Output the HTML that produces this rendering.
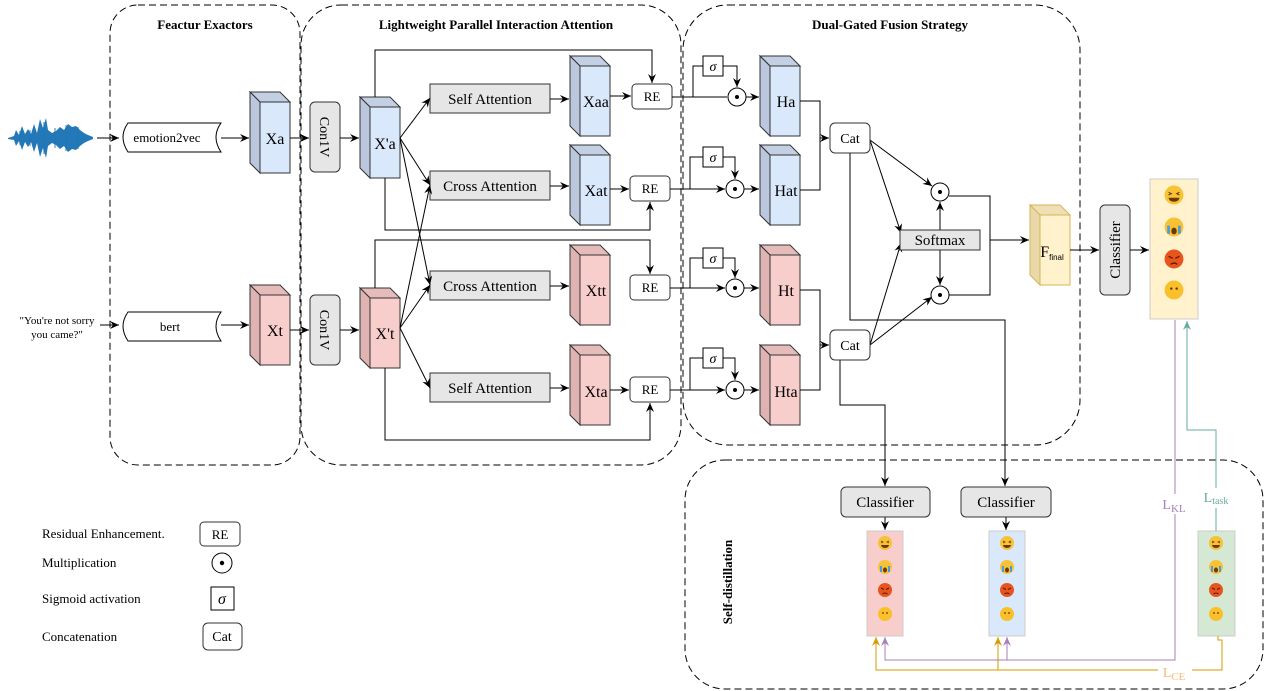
<!DOCTYPE html>
<html><head><meta charset="utf-8"><style>
html,body{margin:0;padding:0;background:#fff}
svg{display:block;font-family:"Liberation Serif",serif}
</style></head><body>
<svg width="1265" height="691" viewBox="0 0 1265 691" xmlns="http://www.w3.org/2000/svg">
<defs>
<marker id="a" markerWidth="10" markerHeight="10" refX="9" refY="5" orient="auto" markerUnits="userSpaceOnUse"><path d="M0,1 L9,5 L0,9 L3,5 z" fill="#000"/></marker>
<marker id="ap" markerWidth="10" markerHeight="10" refX="9" refY="5" orient="auto" markerUnits="userSpaceOnUse"><path d="M0,1 L9,5 L0,9 L3,5 z" fill="#a680b8"/></marker>
<marker id="ao" markerWidth="10" markerHeight="10" refX="9" refY="5" orient="auto" markerUnits="userSpaceOnUse"><path d="M0,1 L9,5 L0,9 L3,5 z" fill="#d79b00"/></marker>
<marker id="at" markerWidth="10" markerHeight="10" refX="9" refY="5" orient="auto" markerUnits="userSpaceOnUse"><path d="M0,1 L9,5 L0,9 L3,5 z" fill="#67ab9f"/></marker>
<g id="emo">
<circle cx="0" cy="0" r="7" fill="#f7c235"/><path d="M-4,-2 l2,1 l-2,1 M4,-2 l-2,1 l2,1" stroke="#6b3a00" fill="none" stroke-width="0.8"/><path d="M-4,2 h8 a4,3 0 0 1 -8,0z" fill="#6b3a00"/>
</g>
<g id="emo2"><circle r="7" fill="#f7c235"/><rect x="-5" y="-1" width="2" height="6" fill="#4a9be0"/><rect x="3" y="-1" width="2" height="6" fill="#4a9be0"/><ellipse cx="0" cy="3" rx="2" ry="2.5" fill="#6b3a00"/></g>
<g id="emo3"><circle r="7" fill="#e8541e"/><path d="M-4,-2 l3,1.5 M4,-2 l-3,1.5 M-2.5,4 q2.5,-2 5,0" stroke="#5a1a00" fill="none" stroke-width="1"/></g>
<g id="emo4"><circle r="7" fill="#f9c02c"/><circle cx="-2" cy="-1" r="0.9" fill="#6b3a00"/><circle cx="2" cy="-1" r="0.9" fill="#6b3a00"/></g>
</defs>

<g fill="none" stroke="#000" stroke-dasharray="7,4" stroke-width="1">
<rect x="110" y="5" width="190" height="460" rx="28"/>
<rect x="301" y="5" width="380" height="460" rx="40"/>
<rect x="683" y="5" width="397" height="440" rx="45"/>
<rect x="685" y="460" width="578" height="229" rx="40"/>
</g>
<g font-weight="bold" font-size="13" text-anchor="middle">
<text x="205" y="29">Feactur Exactors</text>
<text x="496" y="29">Lightweight Parallel Interaction Attention</text>
<text x="890" y="29">Dual-Gated Fusion Strategy</text>
<text transform="translate(732,582) rotate(-90)">Self-distillation</text>
</g>

<!-- waveform -->
<path d="M8,138 L14,136 L16,130 L19,135 L22,126 L25,134 L28,129 L31,134 L34,124 L37,133 L40,119 L43,128 L46,118 L48,130 L52,133 L56,131 L60,127 L64,130 L68,124 L72,127 L76,126 L80,130 L84,133 L88,135 L93,137 L93,139 L88,141 L84,143 L80,146 L76,150 L72,149 L68,152 L64,146 L60,149 L56,145 L52,143 L48,146 L46,158 L43,148 L40,157 L37,143 L34,152 L31,142 L28,147 L25,142 L22,150 L19,141 L16,146 L14,140 L8,139z" fill="#2378b8"/>
<g stroke="#1f77b4" stroke-width="1.5" opacity="0.6">
<path d="M20,131v14 M30,130v16 M44,122v32 M55,128v20 M66,125v26 M78,127v22"/>
</g>
<line x1="97" y1="138" x2="119" y2="138" stroke="#000" marker-end="url(#a)"/>
<line x1="100" y1="325" x2="119" y2="325" stroke="#000" marker-end="url(#a)"/>
<text x="57" y="324" font-size="11" text-anchor="middle">"You're not sorry</text>
<text x="57" y="338" font-size="11" text-anchor="middle">you came?"</text>

<g fill="#fff" stroke="#000">
<path d="M128,123 H221 Q211,137 221,152 H128 Q118,137 128,123z"/>
<path d="M128,312 H221 Q211,326 221,341 H128 Q118,326 128,312z"/>
</g>
<text x="167" y="142" font-size="13" text-anchor="middle">emotion2vec</text>
<text x="170" y="331" font-size="13" text-anchor="middle">bert</text>
<line x1="221" y1="138" x2="249" y2="138" stroke="#000" marker-end="url(#a)"/>
<line x1="221" y1="325" x2="249" y2="325" stroke="#000" marker-end="url(#a)"/>

<g stroke="#333" stroke-width="1">
<g fill="#dae8fc">
<path d="M250,92 L280,92 L290,102 L260,102z" fill="#c3cfe2"/><path d="M250,92 L260,102 L260,173 L250,163z" fill="#bac7dc"/><rect x="260" y="102" width="30" height="71"/>
<path d="M360,97 L390,97 L400,107 L370,107z" fill="#c3cfe2"/><path d="M360,97 L370,107 L370,178 L360,168z" fill="#bac7dc"/><rect x="370" y="107" width="30" height="71"/>
<path d="M570,56 L600,56 L610,66 L580,66z" fill="#c3cfe2"/><path d="M570,56 L580,66 L580,136 L570,126z" fill="#bac7dc"/><rect x="580" y="66" width="30" height="70"/>
<path d="M570,145 L600,145 L610,155 L580,155z" fill="#c3cfe2"/><path d="M570,145 L580,155 L580,225 L570,215z" fill="#bac7dc"/><rect x="580" y="155" width="30" height="70"/>
<path d="M760,56 L790,56 L800,66 L770,66z" fill="#c3cfe2"/><path d="M760,56 L770,66 L770,136 L760,126z" fill="#bac7dc"/><rect x="770" y="66" width="30" height="70"/>
<path d="M760,145 L790,145 L800,155 L770,155z" fill="#c3cfe2"/><path d="M760,145 L770,155 L770,225 L760,215z" fill="#bac7dc"/><rect x="770" y="155" width="30" height="70"/>
</g>
<g fill="#f8cecc">
<path d="M250,285 L280,285 L290,295 L260,295z" fill="#e6bcbb"/><path d="M250,285 L260,295 L260,365 L250,355z" fill="#deb3b2"/><rect x="260" y="295" width="30" height="70"/>
<path d="M360,288 L390,288 L400,298 L370,298z" fill="#e6bcbb"/><path d="M360,288 L370,298 L370,368 L360,358z" fill="#deb3b2"/><rect x="370" y="298" width="30" height="70"/>
<path d="M570,245 L600,245 L610,255 L580,255z" fill="#e6bcbb"/><path d="M570,245 L580,255 L580,325 L570,315z" fill="#deb3b2"/><rect x="580" y="255" width="30" height="70"/>
<path d="M570,345 L600,345 L610,355 L580,355z" fill="#e6bcbb"/><path d="M570,345 L580,355 L580,425 L570,415z" fill="#deb3b2"/><rect x="580" y="355" width="30" height="70"/>
<path d="M760,245 L790,245 L800,255 L770,255z" fill="#e6bcbb"/><path d="M760,245 L770,255 L770,325 L760,315z" fill="#deb3b2"/><rect x="770" y="255" width="30" height="70"/>
<path d="M760,345 L790,345 L800,355 L770,355z" fill="#e6bcbb"/><path d="M760,345 L770,355 L770,425 L760,415z" fill="#deb3b2"/><rect x="770" y="355" width="30" height="70"/>
</g>
<g stroke="#d6b656">
<path d="M1030,205 L1060,205 L1070,215 L1040,215z" fill="#eedfb5"/><path d="M1030,205 L1040,215 L1040,285 L1030,275z" fill="#e8d8aa"/><rect x="1040" y="215" width="30" height="70" fill="#fff2cc"/>
</g>
</g>
<g font-size="16" text-anchor="middle">
<text x="275" y="144">Xa</text><text x="275" y="336">Xt</text>
<text x="385" y="149">X'a</text><text x="385" y="339">X't</text>
<text x="596" y="107">Xaa</text><text x="596" y="196">Xat</text><text x="596" y="296">Xtt</text><text x="596" y="397">Xta</text>
<text x="786" y="107">Ha</text><text x="786" y="196">Hat</text><text x="786" y="296">Ht</text><text x="786" y="397">Hta</text>
<text x="1052" y="257" text-anchor="middle">F<tspan font-family="Liberation Sans" font-size="8" dy="3">final</tspan></text>
</g>

<g fill="#e6e6e6" stroke="#333">
<rect x="310" y="102" width="30" height="70" rx="5"/>
<rect x="310" y="295" width="30" height="70" rx="5"/>
<rect x="1100" y="205" width="30" height="90" rx="5"/>
</g>
<g font-size="14" text-anchor="middle">
<text transform="translate(320,137) rotate(90)">Con1V</text>
<text transform="translate(320,330) rotate(90)">Con1V</text>
<text transform="translate(1120,250) rotate(-90)" font-size="15">Classifier</text>
</g>
<g stroke="#000" fill="none">
<line x1="290" y1="138" x2="309" y2="138" marker-end="url(#a)"/>
<line x1="290" y1="330" x2="309" y2="330" marker-end="url(#a)"/>
<line x1="340" y1="138" x2="359" y2="138" marker-end="url(#a)"/>
<line x1="340" y1="330" x2="359" y2="330" marker-end="url(#a)"/>
</g>

<g fill="#e6e6e6" stroke="#333">
<rect x="430" y="84" width="120" height="29"/>
<rect x="430" y="171" width="120" height="29"/>
<rect x="430" y="271" width="120" height="29"/>
<rect x="430" y="373" width="120" height="29"/>
</g>
<g font-size="15" text-anchor="middle">
<text x="490" y="104">Self Attention</text>
<text x="490" y="191">Cross Attention</text>
<text x="490" y="291">Cross Attention</text>
<text x="490" y="393">Self Attention</text>
</g>
<g stroke="#000" fill="none">
<line x1="400" y1="138" x2="430" y2="98" marker-end="url(#a)"/>
<line x1="400" y1="138" x2="430" y2="185" marker-end="url(#a)"/>
<line x1="400" y1="138" x2="430" y2="285" marker-end="url(#a)"/>
<line x1="400" y1="328" x2="430" y2="185" marker-end="url(#a)"/>
<line x1="400" y1="328" x2="430" y2="285" marker-end="url(#a)"/>
<line x1="400" y1="328" x2="430" y2="388" marker-end="url(#a)"/>
<line x1="550" y1="99" x2="569" y2="99" marker-end="url(#a)"/>
<line x1="550" y1="186" x2="569" y2="186" marker-end="url(#a)"/>
<line x1="550" y1="286" x2="569" y2="286" marker-end="url(#a)"/>
<line x1="550" y1="388" x2="569" y2="388" marker-end="url(#a)"/>
<line x1="610" y1="96" x2="631" y2="96" marker-end="url(#a)"/>
<line x1="610" y1="189" x2="629" y2="189" marker-end="url(#a)"/>
<line x1="610" y1="390" x2="629" y2="390" marker-end="url(#a)"/>
<polyline points="375,97 375,50 652,50 652,83" marker-end="url(#a)"/>
<polyline points="385,178 385,230 650,230 650,202" marker-end="url(#a)"/>
<polyline points="375,288 375,240 650,240 650,274" marker-end="url(#a)"/>
<polyline points="385,368 385,440 650,440 650,403" marker-end="url(#a)"/>
</g>

<g fill="#fff" stroke="#333">
<rect x="632" y="84" width="40" height="25" rx="4"/>
<rect x="630" y="176" width="40" height="25" rx="4"/>
<rect x="630" y="275" width="40" height="25" rx="4"/>
<rect x="630" y="377" width="40" height="25" rx="4"/>
<rect x="200" y="522" width="40" height="24" rx="4"/>
</g>
<g font-size="13" text-anchor="middle">
<text x="652" y="101">RE</text><text x="650" y="193">RE</text><text x="650" y="292">RE</text><text x="650" y="394">RE</text><text x="220" y="539">RE</text>
</g>

<g stroke="#000" fill="none">
<line x1="672" y1="97" x2="727" y2="97" />
<polyline points="693,97 693,66 703,66"/><polyline points="723,66 737,66 737,87" marker-end="url(#a)"/>
<line x1="746" y1="97" x2="759" y2="97" marker-end="url(#a)"/>
<line x1="670" y1="189" x2="725" y2="189" marker-end="url(#a)"/>
<polyline points="690,189 690,157 703,157"/><polyline points="723,157 735,157 735,179" marker-end="url(#a)"/>
<line x1="744" y1="189" x2="759" y2="189" marker-end="url(#a)"/>
<line x1="670" y1="288" x2="725" y2="288" marker-end="url(#a)"/>
<polyline points="690,288 690,258 703,258"/><polyline points="723,258 735,258 735,278" marker-end="url(#a)"/>
<line x1="744" y1="288" x2="759" y2="288" marker-end="url(#a)"/>
<line x1="670" y1="390" x2="725" y2="390" marker-end="url(#a)"/>
<polyline points="690,390 690,358 703,358"/><polyline points="723,358 735,358 735,380" marker-end="url(#a)"/>
<line x1="744" y1="390" x2="759" y2="390" marker-end="url(#a)"/>
<polyline points="800,101 820,101 820,190 800,190"/>
<line x1="820" y1="138" x2="829" y2="138" marker-end="url(#a)"/>
<polyline points="800,290 820,290 820,390 800,390"/>
<line x1="820" y1="345" x2="829" y2="345" marker-end="url(#a)"/>
<line x1="870" y1="140" x2="932" y2="186" marker-end="url(#a)"/>
<line x1="870" y1="140" x2="901" y2="233" marker-end="url(#a)"/>
<line x1="870" y1="345" x2="901" y2="243" marker-end="url(#a)"/>
<line x1="870" y1="345" x2="932" y2="297" marker-end="url(#a)"/>
<line x1="940" y1="230" x2="940" y2="202" marker-end="url(#a)"/>
<line x1="940" y1="250" x2="940" y2="285" marker-end="url(#a)"/>
<polyline points="949,196 990,196 990,295 949,295"/>
<line x1="990" y1="240" x2="1029" y2="240" marker-end="url(#a)"/>
<line x1="1070" y1="250" x2="1099" y2="250" marker-end="url(#a)"/>
<line x1="1130" y1="250" x2="1149" y2="250" marker-end="url(#a)"/>
<polyline points="850,153 850,320 1005,320 1005,486" marker-end="url(#a)"/>
<polyline points="840,360 840,405 885,405 885,486" marker-end="url(#a)"/>
<line x1="885" y1="517" x2="885" y2="530" marker-end="url(#a)"/>
<line x1="1006" y1="517" x2="1006" y2="530" marker-end="url(#a)"/>
</g>
<g fill="#fff" stroke="#000">
<rect x="703" y="56" width="20" height="20"/>
<rect x="703" y="147" width="20" height="20"/>
<rect x="703" y="248" width="20" height="20"/>
<rect x="703" y="348" width="20" height="20"/>
<rect x="211" y="587" width="23" height="23"/>
</g>
<g font-size="14" font-style="italic" text-anchor="middle">
<text x="713" y="71">σ</text><text x="713" y="162">σ</text><text x="713" y="263">σ</text><text x="713" y="363">σ</text><text x="222" y="604" font-size="16">σ</text>
</g>
<g fill="#fff" stroke="#000">
<circle cx="737" cy="97" r="9"/><circle cx="735" cy="189" r="9"/><circle cx="735" cy="288" r="9"/><circle cx="735" cy="390" r="9"/>
<circle cx="940" cy="192" r="9"/><circle cx="940" cy="295" r="9"/><circle cx="222" cy="563" r="10"/>
</g>
<g fill="#000">
<circle cx="737" cy="97" r="2"/><circle cx="735" cy="189" r="2"/><circle cx="735" cy="288" r="2"/><circle cx="735" cy="390" r="2"/>
<circle cx="940" cy="192" r="2"/><circle cx="940" cy="295" r="2"/><circle cx="222" cy="563" r="2.2"/>
</g>
<g fill="#fff" stroke="#333">
<rect x="830" y="123" width="40" height="30" rx="5"/>
<rect x="830" y="330" width="40" height="30" rx="5"/>
<rect x="203" y="623" width="39" height="27" rx="5"/>
</g>
<g font-size="14" text-anchor="middle">
<text x="850" y="143">Cat</text><text x="850" y="350">Cat</text><text x="222" y="641">Cat</text>
</g>
<rect x="900" y="230" width="80" height="20" fill="#e6e6e6" stroke="#333"/>
<text x="940" y="245" font-size="15" text-anchor="middle">Softmax</text>

<g fill="#e6e6e6" stroke="#333">
<rect x="841" y="487" width="89" height="30" rx="5"/>
<rect x="961" y="487" width="90" height="30" rx="5"/>
</g>
<g font-size="15" text-anchor="middle">
<text x="885" y="507">Classifier</text><text x="1006" y="507">Classifier</text>
</g>

<g stroke="#ccc">
<rect x="1150" y="179" width="48" height="140" fill="#fff2cc"/>
<rect x="867" y="531" width="36" height="105" fill="#f8cecc"/>
<rect x="989" y="531" width="36" height="105" fill="#dae8fc"/>
<rect x="1198" y="531" width="37" height="105" fill="#d5e8d4"/>
</g>
<g>
<use href="#emo" transform="translate(1174,195) scale(1.35)"/>
<use href="#emo2" transform="translate(1174,227) scale(1.35)"/>
<use href="#emo3" transform="translate(1174,259) scale(1.35)"/>
<use href="#emo4" transform="translate(1174,290) scale(1.35)"/>
<use href="#emo" transform="translate(885,543)"/><use href="#emo2" transform="translate(885,567)"/><use href="#emo3" transform="translate(885,590)"/><use href="#emo4" transform="translate(885,614)"/>
<use href="#emo" transform="translate(1007,543)"/><use href="#emo2" transform="translate(1007,567)"/><use href="#emo3" transform="translate(1007,590)"/><use href="#emo4" transform="translate(1007,614)"/>
<use href="#emo" transform="translate(1216,543)"/><use href="#emo2" transform="translate(1216,567)"/><use href="#emo3" transform="translate(1216,590)"/><use href="#emo4" transform="translate(1216,614)"/>
</g>

<g fill="none">
<polyline points="1175,320 1175,660 885,660 885,637" stroke="#a680b8" marker-end="url(#ap)"/>
<line x1="1007" y1="660" x2="1007" y2="637" stroke="#a680b8" marker-end="url(#ap)"/>
<polyline points="1218,636 1218,640 1222,640 1222,670 876,670 876,637" stroke="#d79b00" marker-end="url(#ao)"/>
<line x1="998" y1="670" x2="998" y2="637" stroke="#d79b00" marker-end="url(#ao)"/>
<polyline points="1216,531 1216,430 1187,430 1187,321" stroke="#67ab9f" marker-end="url(#at)"/>
</g>
<rect x="1158" y="494" width="32" height="20" fill="#fff"/>
<text x="1174" y="509" font-size="14" fill="#a680b8" text-anchor="middle">L<tspan font-size="11" dy="3">KL</tspan></text>
<rect x="1196" y="488" width="40" height="20" fill="#fff"/>
<text x="1216" y="502" font-size="14" fill="#67ab9f" text-anchor="middle">L<tspan font-size="10" dy="2">task</tspan></text>
<rect x="1158" y="662" width="34" height="20" fill="#fff"/>
<text x="1174" y="677" font-size="14" fill="#ffb570" text-anchor="middle">L<tspan font-size="11" dy="3">CE</tspan></text>

<g font-size="13">
<text x="42" y="538">Residual Enhancement.</text>
<text x="42" y="567">Multiplication</text>
<text x="42" y="603">Sigmoid activation</text>
<text x="42" y="641">Concatenation</text>
</g>
</svg>
</body></html>
